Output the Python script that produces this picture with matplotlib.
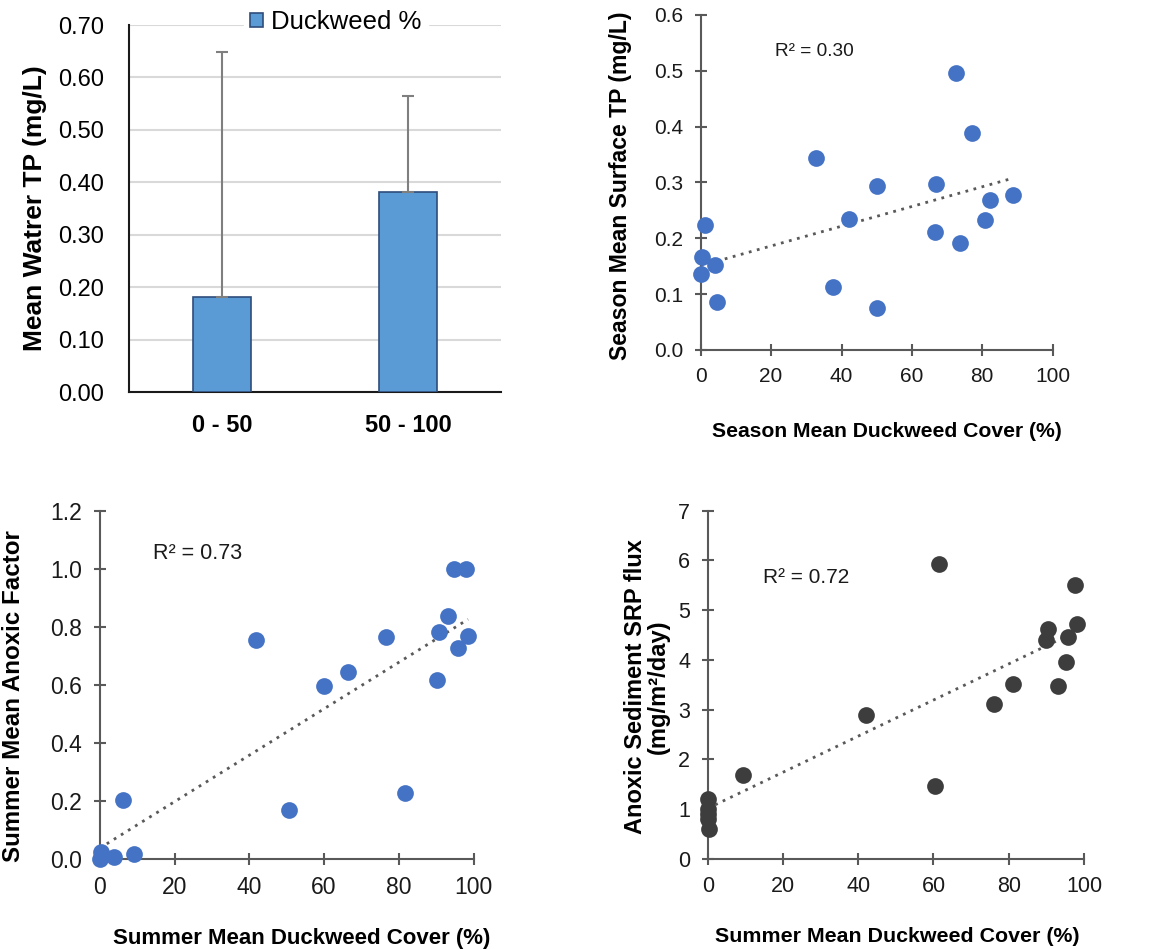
import matplotlib
matplotlib.use("Agg")
import matplotlib.pyplot as plt
import numpy as np

plt.rcParams['font.family'] = ['Liberation Sans', 'DejaVu Sans']

# bar chart: mean water TP by duckweed cover class
bar_cats = ['0 - 50', '50 - 100']
bar_vals = [0.182, 0.382]
bar_err = [0.466, 0.182]

# season mean duckweed cover vs surface TP
tp_cover = [72.4, 77.0, 32.7, 50.2, 66.9, 88.8, 82.2, 42.2, 80.9, 66.7, 73.8,
            1.3, 0.4, 4.0, 0.0, 4.7, 37.5, 50.2]
tp_vals = [0.496, 0.388, 0.343, 0.294, 0.297, 0.278, 0.268, 0.235, 0.232, 0.212,
           0.191, 0.224, 0.166, 0.152, 0.137, 0.086, 0.113, 0.076]

# summer mean duckweed cover vs anoxic factor
af_cover = [94.8, 98.0, 93.2, 90.6, 98.5, 95.9, 90.1, 76.6, 41.9, 66.4, 60.1,
            81.7, 50.6, 6.2, 9.2, 3.7, 0.4, 0.0]
af_vals = [1.0, 1.0, 0.838, 0.781, 0.768, 0.728, 0.618, 0.765, 0.756, 0.645,
           0.597, 0.227, 0.168, 0.203, 0.016, 0.008, 0.025, 0.0]

# summer mean duckweed cover vs anoxic sediment SRP flux
srp_cover = [61.4, 97.7, 98.2, 90.5, 89.9, 95.7, 95.1, 93.1, 81.2, 76.1, 42.0,
             9.3, 60.3, 0.2, 0.0, 0.0, 0.0, 0.4]
srp_vals = [5.92, 5.50, 4.73, 4.62, 4.39, 4.45, 3.96, 3.48, 3.51, 3.12, 2.88,
            1.68, 1.46, 1.21, 1.0, 0.9, 0.8, 0.59]

blue = '#4472C4'
dark = '#3d3d3d'
axis_col = '#595959'

fig = plt.figure(figsize=(11.5, 9.49), dpi=100)

# --- top left: bar chart ---
ax1 = fig.add_axes([0.1122, 0.5869, 0.3235, 0.3867])
x = np.arange(len(bar_cats))
ax1.bar(x, bar_vals, width=0.31, color='#5B9BD5', edgecolor='#2E4D7B',
        linewidth=1.2, label='Duckweed %', zorder=3)
ax1.errorbar(x, bar_vals, yerr=[np.zeros(len(bar_err)), bar_err], fmt='none',
             ecolor='#7f7f7f', elinewidth=1.5, capsize=4, capthick=1.5, zorder=4)
ax1.set_xlim(-0.5, 1.5)
ax1.set_ylim(0, 0.7)
ax1.set_yticks(np.arange(0, 0.71, 0.1))
ax1.set_yticklabels([f'{v:.2f}' for v in np.arange(0, 0.71, 0.1)])
ax1.set_xticks(x)
ax1.set_xticklabels(bar_cats, fontweight='bold')
ax1.tick_params(axis='both', length=0, labelsize=17, colors='#000000')
ax1.tick_params(axis='y', pad=18)
ax1.tick_params(axis='x', pad=16)
ax1.grid(axis='y', color='#d9d9d9', linewidth=1.5, zorder=0)
ax1.set_axisbelow(True)
for s in ['top', 'right']:
    ax1.spines[s].set_visible(False)
for s in ['left', 'bottom']:
    ax1.spines[s].set_color('#1a1a1a')
    ax1.spines[s].set_linewidth(1.5)
ax1.set_ylabel('Mean Watrer TP (mg/L)', fontsize=19, fontweight='bold')
ax1.yaxis.set_label_coords(-0.220, 0.5)
leg = ax1.legend(loc='center', bbox_to_anchor=(0.556, 1.008), fontsize=18.5,
                 frameon=True, facecolor='white', edgecolor='white', framealpha=1,
                 handlelength=0.5, handleheight=0.5, handletextpad=0.3,
                 borderpad=0.25, borderaxespad=0, fancybox=False)
leg.set_zorder(5)


def scatter_panel(ax, xs, ys, color, xlabel, ylabel, ylim, yticks, yfmt, r2,
                  r2_pos, xlab_coords, ylab_coords, tick_fs, xlab_fs, ylab_fs,
                  r2_fs):
    ax.scatter(xs, ys, s=145, color=color, zorder=3, clip_on=False,
               linewidths=0)
    k, b = np.polyfit(xs, ys, 1)
    xx = np.array([min(xs), max(xs)])
    ax.plot(xx, k * xx + b, color=axis_col, linestyle=(0, (1, 2)),
            linewidth=2, zorder=2)
    ax.set_xlim(0, 100)
    ax.set_ylim(*ylim)
    ax.set_xticks(np.arange(0, 101, 20))
    ax.set_yticks(yticks)
    ax.set_yticklabels([yfmt.format(v) for v in yticks])
    for s in ['top', 'right']:
        ax.spines[s].set_visible(False)
    for s in ['left', 'bottom']:
        ax.spines[s].set_color(axis_col)
        ax.spines[s].set_linewidth(1.5)
    ax.tick_params(direction='inout', length=9, width=1.5, color=axis_col,
                   labelsize=tick_fs, labelcolor='#1a1a1a', pad=8)
    ax.set_xlabel(xlabel, fontsize=xlab_fs, fontweight='bold')
    ax.set_ylabel(ylabel, fontsize=ylab_fs, fontweight='bold')
    ax.xaxis.set_label_coords(*xlab_coords)
    ax.yaxis.set_label_coords(*ylab_coords)
    ax.text(r2_pos[0], r2_pos[1], r2, fontsize=r2_fs, color='#1a1a1a',
            va='center', ha='left')


# --- top right ---
ax2 = fig.add_axes([0.6093, 0.6312, 0.3061, 0.353])
scatter_panel(ax2, tp_cover, tp_vals, blue, 'Season Mean Duckweed Cover (%)',
              'Season Mean Surface TP (mg/L)', (0, 0.6),
              np.arange(0, 0.61, 0.1), '{:.1f}', 'R² = 0.30', (21.1, 0.534),
              (0.529, -0.214), (-0.195, 0.49), 15, 15.2, 16.6, 13.7)

# --- bottom left ---
ax3 = fig.add_axes([0.0867, 0.0948, 0.3252, 0.367])
scatter_panel(ax3, af_cover, af_vals, blue, 'Summer Mean Duckweed Cover (%)',
              'Summer Mean Anoxic Factor', (0, 1.2),
              np.arange(0, 1.21, 0.2), '{:.1f}', 'R² = 0.73', (14.3, 1.053),
              (0.541, -0.198), (-0.200, 0.468), 16.5, 16, 17.4, 15.5)

# --- bottom right ---
ax4 = fig.add_axes([0.6154, 0.0952, 0.3272, 0.3667])
scatter_panel(ax4, srp_cover, srp_vals, dark, 'Summer Mean Duckweed Cover (%)',
              'Anoxic Sediment SRP flux\n(mg/m²/day)', (0, 7),
              np.arange(0, 8, 1), '{:.0f}', 'R² = 0.72', (14.6, 5.66),
              (0.504, -0.195), (-0.100, 0.495), 15.5, 15.4, 17, 15)
ax4.yaxis.label.set_linespacing(1.0)

fig.savefig('out.png', dpi=100, facecolor='white')
